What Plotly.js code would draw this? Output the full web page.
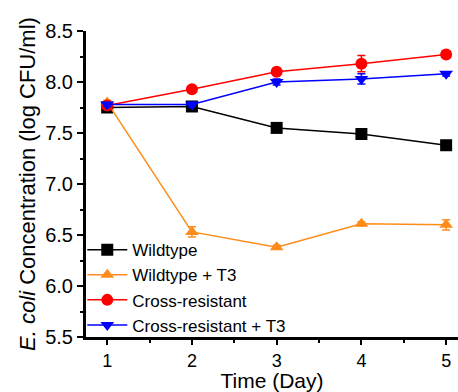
<!DOCTYPE html>
<html><head><meta charset="utf-8">
<script src="https://cdn.plot.ly/plotly-3.0.1.min.js"></script>
<style>html,body{margin:0;padding:0;background:#fff}#c{width:458px;height:392px}</style>
</head><body><div id="c"></div>
<script>
const days = [1, 2, 3, 4, 5];
const wildtype = [7.75, 7.76, 7.55, 7.49, 7.38];
const wildtypeErr = [0.02, 0.02, 0.02, 0.05, 0.02];
const wildtypeT3 = [7.80, 6.53, 6.38, 6.61, 6.60];
const wildtypeT3Err = [0.02, 0.05, 0.02, 0.02, 0.05];
const crossRes = [7.77, 7.93, 8.10, 8.18, 8.27];
const crossResErr = [0.02, 0.02, 0.02, 0.08, 0.02];
const crossResT3 = [7.78, 7.78, 8.00, 8.03, 8.08];
const crossResT3Err = [0.02, 0.02, 0.03, 0.05, 0.02];
const names = ['Wildtype', 'Wildtype + T3', 'Cross-resistant', 'Cross-resistant + T3'];

function tr(y, e, name, color, symbol) {
  return {x: days, y: y, name: name, type: 'scatter', mode: 'lines+markers',
    line: {color: color, width: 1.5},
    marker: {color: color, symbol: symbol, size: 12},
    error_y: {type: 'data', array: e, visible: true, color: color, thickness: 1.5, width: 4}};
}
const data = [
  tr(wildtype, wildtypeErr, names[0], '#000000', 'square'),
  tr(wildtypeT3, wildtypeT3Err, names[1], '#FF8C1A', 'triangle-up'),
  tr(crossRes, crossResErr, names[2], '#FF0000', 'circle'),
  tr(crossResT3, crossResT3Err, names[3], '#0000FF', 'triangle-down')
];
const font = {family: 'Liberation Sans, Arial, sans-serif', color: '#000'};
const layout = {
  width: 458, height: 392,
  margin: {l: 86, r: 0, t: 31, b: 55},
  paper_bgcolor: '#fff', plot_bgcolor: '#fff',
  font: Object.assign({size: 18}, font),
  showlegend: true,
  legend: {x: -0.01, y: -0.02, xanchor: 'left', yanchor: 'bottom', bgcolor: 'rgba(0,0,0,0)',
    font: Object.assign({size: 17}, font), tracegroupgap: 0, itemwidth: 40},
  xaxis: {range: [0.75, 5.14], tickvals: days, ticktext: days.map(String),
    showgrid: false, zeroline: false, showline: true, linecolor: '#000', linewidth: 3,
    ticks: 'outside', ticklen: 5, tickwidth: 2, tickcolor: '#000',
    minor: {tickvals: [1.5, 2.5, 3.5, 4.5], ticks: 'outside', ticklen: 3, tickwidth: 2, tickcolor: '#000'},
    tickfont: Object.assign({size: 18}, font),
    title: {text: 'Time (Day)', font: Object.assign({size: 21}, font), standoff: 0}},
  yaxis: {range: [5.5, 8.5], tickvals: [5.5, 6.0, 6.5, 7.0, 7.5, 8.0, 8.5],
    ticktext: ['5.5', '6.0', '6.5', '7.0', '7.5', '8.0', '8.5'],
    showgrid: false, zeroline: false, showline: true, linecolor: '#000', linewidth: 3,
    ticks: 'outside', ticklen: 6, tickwidth: 2, tickcolor: '#000',
    minor: {tickvals: [5.75, 6.25, 6.75, 7.25, 7.75, 8.25], ticks: 'outside', ticklen: 3, tickwidth: 2, tickcolor: '#000'},
    tickfont: Object.assign({size: 20}, font),
    title: {text: '<i>E. coli</i> Concentration (log CFU/ml)', font: Object.assign({size: 22}, font), standoff: 4}}
};
Plotly.newPlot('c', data, layout, {displayModeBar: false, staticPlot: true});
</script></body></html>
